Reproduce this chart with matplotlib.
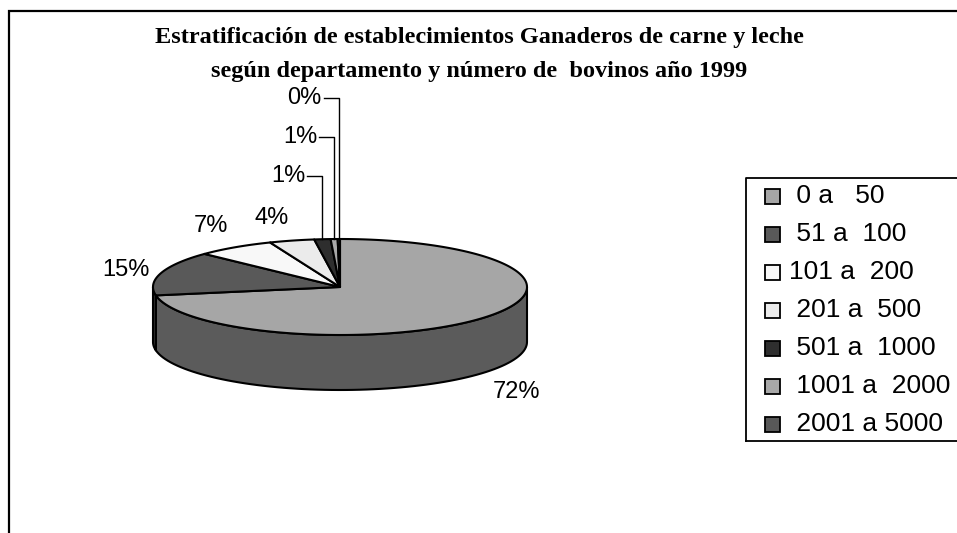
import numpy as np
import matplotlib.pyplot as plt
from matplotlib.patches import Polygon
from matplotlib.colors import to_rgb

# ---------------------------
# DATOS
# ---------------------------
titulo = ["Estratificación de establecimientos Ganaderos de carne y leche",
          "según departamento y número de  bovinos año 1999"]
categorias = [" 0 a   50", " 51 a  100", "101 a  200", " 201 a  500",
              " 501 a  1000", " 1001 a  2000", " 2001 a 5000"]
porcentajes = [72.2, 14.9, 6.8, 3.9, 1.4, 0.6, 0.2]
colores = ["#a6a6a6", "#595959", "#f8f8f8", "#ebebeb", "#2e2e2e", "#a8a8a8", "#585858"]

# ---------------------------
# FIGURA (coordenadas en pixeles)
# ---------------------------
W, H = 957, 533
fig = plt.figure(figsize=(W / 100, H / 100), dpi=100)
ax = fig.add_axes([0, 0, 1, 1])
ax.set_xlim(0, W)
ax.set_ylim(H, 0)
ax.axis("off")

# marco del grafico
ax.plot([9, 9, W + 5], [H + 5, 11, 11], color="black", lw=1.6, solid_joinstyle="miter")

for i, linea in enumerate(titulo):
    ax.text(479, 37 + i * 35, linea, ha="center", va="center",
            family="Liberation Serif", fontweight="bold", fontsize=17.5)

# ---------------------------
# TORTA 3D
# ---------------------------
cx, cy = 340, 287
rx, ry = 187, 48
prof = 55


def punto(t, dy=0):
    return cx + rx * np.cos(np.radians(t)), cy - ry * np.sin(np.radians(t)) + dy


valores = np.array(porcentajes)
angulos = 90 - np.concatenate([[0], np.cumsum(valores)]) * 3.6

# caras laterales (solo la mitad frontal)
for i in range(len(valores)):
    a_ini, a_fin = angulos[i], angulos[i + 1]
    t1, t2 = min(a_ini, 0), max(a_fin, -180)
    if t1 <= t2:
        continue
    ts = np.linspace(t1, t2, 80)
    arriba = [punto(t) for t in ts]
    abajo = [punto(t, prof) for t in ts[::-1]]
    lado = tuple(c * 0.55 for c in to_rgb(colores[i]))
    ax.add_patch(Polygon(arriba + abajo, closed=True, facecolor=lado,
                         edgecolor="black", lw=1.5, joinstyle="round"))

# caras superiores
for i in range(len(valores)):
    ts = np.linspace(angulos[i], angulos[i + 1], max(3, int(abs(valores[i]) * 4)))
    pts = [(cx, cy)] + [punto(t) for t in ts]
    ax.add_patch(Polygon(pts, closed=True, facecolor=colores[i],
                         edgecolor="black", lw=1.5, joinstyle="round"))

# etiquetas de porcentaje
n_chico = 0
for i, v in enumerate(valores):
    medio = (angulos[i] + angulos[i + 1]) / 2
    c, s = np.cos(np.radians(medio)), np.sin(np.radians(medio))
    texto = f"{v:.0f}%"
    if v < 2:
        # etiquetas pequeñas con linea guia
        bx, by = punto(medio)
        ly = cy - ry - 63 - n_chico * 39
        ax.plot([bx - 15, bx, bx], [ly, ly, by], color="black", lw=1)
        ax.text(bx - 17, ly, texto, ha="right", va="center",
                family="Liberation Sans", fontsize=17)
        n_chico += 1
        continue
    px = cx + (rx + 12) * c
    py = cy - (ry + 12) * s + (prof if s < 0 else 0)
    ha = "right" if c < -0.2 else ("left" if c > 0.2 else "center")
    va = "bottom" if s > 0.5 else ("top" if s < -0.5 else "center")
    ax.text(px, py, texto, ha=ha, va=va, family="Liberation Sans", fontsize=17)

# ---------------------------
# LEYENDA
# ---------------------------
ax.plot([746, 746, W + 5], [441, 178, 178], color="black", lw=1.3)
ax.plot([746, W + 5], [441, 441], color="black", lw=1.3)
for i, cat in enumerate(categorias):
    y = 196 + i * 38
    ax.add_patch(plt.Rectangle((765, y - 7.5), 15, 15, facecolor=colores[i],
                               edgecolor="black", lw=1.3))
    ax.text(789, y, cat, ha="left", va="center", family="Liberation Sans", fontsize=19)

plt.savefig("out.png", dpi=100)
